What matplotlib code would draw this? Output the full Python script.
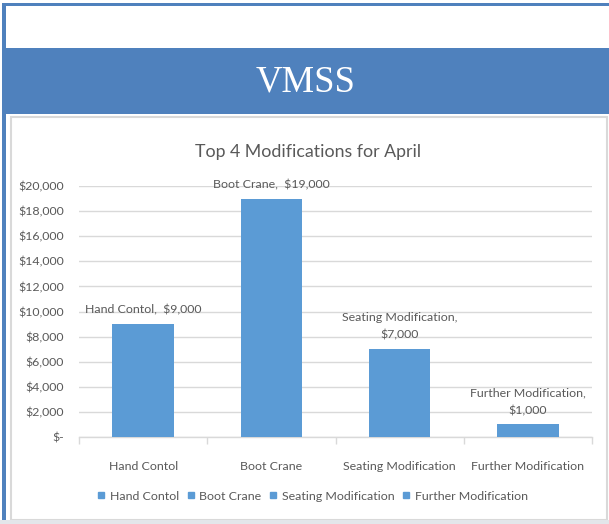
import matplotlib
matplotlib.use("Agg")
import matplotlib.pyplot as plt
from matplotlib.patches import Rectangle
from matplotlib.ticker import FuncFormatter, FixedLocator
from matplotlib.lines import Line2D

categories = ["Hand Contol", "Boot Crane", "Seating Modification", "Further Modification"]
values = [9000, 19000, 7000, 1000]
label_texts = ["Hand Contol,  $9,000", "Boot Crane,  $19,000",
               "Seating Modification,\n$7,000", "Further Modification,\n$1,000"]
yticks = [0, 2000, 4000, 6000, 8000, 10000, 12000, 14000, 16000, 18000, 20000]
title = "Top 4 Modifications for April"
banner_title = "VMSS"

BAR = "#5B9BD5"
BANNER = "#4F81BD"
GRID = "#D9D9D9"
TXT = "#595959"

sans = ["Lato", "DejaVu Sans"]
FS = 8.9

W, H = 609, 524
fig = plt.figure(figsize=(W / 100, H / 100), dpi=100)
fig.patch.set_facecolor("white")

def rect(x0, y0, x1, y1, **kw):
    # pixel coords, y from top
    r = Rectangle((x0 / W, 1 - y1 / H), (x1 - x0) / W, (y1 - y0) / H,
                  transform=fig.transFigure, zorder=-5, **kw)
    fig.patches.append(r)

# frame decorations
rect(2, 3, W, 5.5, facecolor=BANNER, edgecolor="none")
rect(2, 3, 5.5, 520, facecolor=BANNER, edgecolor="none")
rect(2, 48, W, 114, facecolor=BANNER, edgecolor="none")
rect(11, 117, 607, 520, facecolor="white", edgecolor=GRID, linewidth=1.5)
rect(0, 520, W, H, facecolor="#E3E6EA", edgecolor="none")

fig.text(306 / W, 1 - 82 / H, banner_title, color="white", fontsize=26.5,
         family=["Liberation Serif", "DejaVu Serif"], ha="center", va="center")

fig.text(308 / W, 1 - 152 / H, title, color=TXT, fontsize=12.8,
         family=sans, ha="center", va="center")

# axes
x0, x1, ytop, ybot = 79, 592, 186, 437
ax = fig.add_axes([x0 / W, 1 - ybot / H, (x1 - x0) / W, (ybot - ytop) / H])
ax.set_zorder(2)
ax.set_facecolor("none")
xs = list(range(len(categories)))
ax.bar(xs, values, width=0.48, color=BAR, zorder=3)
ax.set_xlim(-0.5, len(categories) - 0.5)
ax.set_ylim(0, 20000)
ax.set_yticks(yticks)
ax.yaxis.set_major_formatter(FuncFormatter(lambda v, p: "$-" if v == 0 else f"${v:,.0f}"))
ax.grid(axis="y", color=GRID, linewidth=1, zorder=0)
for s in ["top", "right", "left"]:
    ax.spines[s].set_visible(False)
ax.spines["bottom"].set_color(GRID)
ax.spines["bottom"].set_linewidth(1)
ax.tick_params(axis="y", length=0, labelsize=FS, labelcolor=TXT, pad=11)
ax.set_xticks(xs)
ax.set_xticklabels(categories)
ax.tick_params(axis="x", length=0, labelsize=FS, labelcolor=TXT, pad=17)
ax.xaxis.set_minor_locator(FixedLocator([i - 0.5 for i in range(len(categories) + 1)]))
ax.tick_params(axis="x", which="minor", length=5, color=GRID, width=1)
for lab in ax.get_xticklabels() + ax.get_yticklabels():
    lab.set_family(sans)

for i, (v, t) in enumerate(zip(values, label_texts)):
    ax.annotate(t, (i, v), xytext=(0, 6), textcoords="offset points",
                ha="center", va="bottom", fontsize=FS, color=TXT,
                family=sans, linespacing=1.75)

handles = [Line2D([], [], marker="s", linestyle="none", markersize=4.2,
                  markerfacecolor=BAR, markeredgecolor=BAR) for _ in categories]
leg = fig.legend(handles, categories, loc="center", bbox_to_anchor=(312 / W, 1 - 496 / H),
                 ncol=4, frameon=False, handletextpad=0.3, columnspacing=0.55,
                 handlelength=0.8, prop={"family": sans, "size": FS})
for t in leg.get_texts():
    t.set_color(TXT)

fig.savefig("out.png", dpi=100)
